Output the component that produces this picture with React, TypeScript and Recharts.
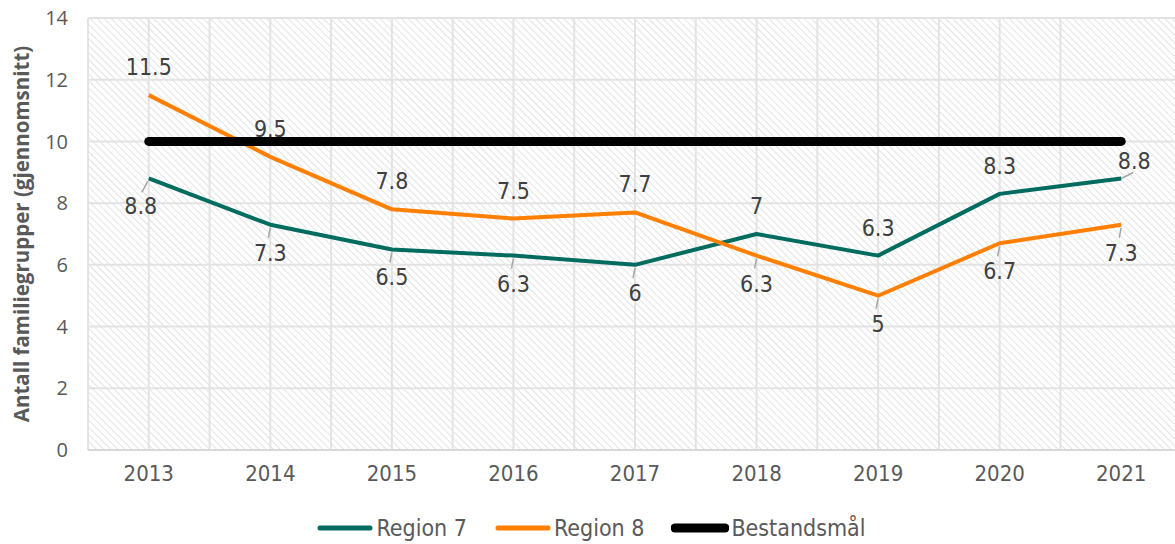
import React from "react";
import {
  CartesianGrid,
  Legend,
  Line,
  LineChart,
  XAxis,
  YAxis,
  Label
} from "recharts";

const years = [2013, 2014, 2015, 2016, 2017, 2018, 2019, 2020, 2021];
const region7 = [8.8, 7.3, 6.5, 6.3, 6, 7, 6.3, 8.3, 8.8];
const region8 = [11.5, 9.5, 7.8, 7.5, 7.7, 6.3, 5, 6.7, 7.3];
const target = [10, 10, 10, 10, 10, 10, 10, 10, 10];
const yTicks = [0, 2, 4, 6, 8, 10, 12, 14];

const data = years.map((year, i) => ({
  year,
  r7: region7[i],
  r8: region8[i],
  goal: target[i]
}));

// gridlines sit on every category centre and every category edge
const gridX = years.flatMap((y) => [y - 0.5, y]).concat(years[years.length - 1] + 0.5);

const FONT = "'DejaVu Sans Condensed', 'DejaVu Sans', sans-serif";
const TEXT = "#595959";
const LABEL = "#404040";

type Side = "above" | "below" | "aboveRight" | "belowLeft";
const r7Sides: Side[] = ["belowLeft", "below", "below", "below", "below", "above", "above", "above", "aboveRight"];
const r8Sides: Side[] = ["above", "above", "above", "above", "above", "below", "below", "below", "below"];

function makeLabel(sides: Side[]) {
  return function PointLabel(props: any) {
    const { x, y, value, index } = props;
    const side = sides[index];
    let dx = 0;
    let dy = -28;
    let lead: [number, number, number, number] | null = null;
    if (side === "below") {
      dy = 28;
      lead = [x, y + 3, x - 2, y + 13];
    } else if (side === "belowLeft") {
      dx = -8;
      dy = 28;
      lead = [x - 1, y + 3, x - 7, y + 14];
    } else if (side === "aboveRight") {
      dx = 13;
      dy = -17;
      lead = [x, y, x + 12, y - 6];
    }
    return (
      <g>
        {lead && (
          <line x1={lead[0]} y1={lead[1]} x2={lead[2]} y2={lead[3]} stroke="#a6a6a6" strokeWidth={1.5} />
        )}
        <text
          x={x + dx}
          y={y + dy}
          textAnchor="middle"
          dominantBaseline="central"
          fontFamily={FONT}
          fontSize={23}
          fill={LABEL}
        >
          {value}
        </text>
      </g>
    );
  };
}

function LegendContent() {
  const items = [
    { name: "Region 7", color: "#006b5f", w: 5 },
    { name: "Region 8", color: "#ff7f00", w: 5 },
    { name: "Bestandsmål", color: "#000000", w: 9 }
  ];
  return (
    <div
      style={{
        display: "flex",
        justifyContent: "center",
        gap: 27,
        paddingTop: 21,
        fontFamily: FONT,
        fontSize: 23,
        lineHeight: "26px",
        color: TEXT
      }}
    >
      {items.map((it) => (
        <div key={it.name} style={{ display: "flex", alignItems: "center" }}>
          <svg width={58} height={12} style={{ marginRight: 2 }}>
            <line x1={4} y1={6} x2={54} y2={6} stroke={it.color} strokeWidth={it.w} strokeLinecap="round" />
          </svg>
          <span>{it.name}</span>
        </div>
      ))}
    </div>
  );
}

export default function App() {
  return (
    <div style={{ position: "absolute", left: 0, top: 0, width: 1175, height: 544, background: "#fff", overflow: "hidden" }}>
      <svg width={0} height={0} style={{ position: "absolute" }}>
        <defs>
          <pattern id="hatch" patternUnits="userSpaceOnUse" width={5} height={5} patternTransform="rotate(-45)">
            <rect width={5} height={5} fill="#ffffff" />
            <line x1={0} y1={0} x2={0} y2={5} stroke="#dcdcdc" strokeWidth={1.6} />
          </pattern>
        </defs>
      </svg>
      <LineChart width={1175} height={544} data={data} margin={{ top: 18, right: -7, bottom: 0, left: 0 }}>
        <CartesianGrid
          fill="url(#hatch)"
          stroke="#e3e3e3"
          strokeWidth={2}
          verticalValues={gridX}
          horizontalValues={yTicks}
        />
        <XAxis
          dataKey="year"
          type="number"
          domain={[2012.5, 2021.5]}
          ticks={years}
          height={44}
          axisLine={{ stroke: "#d9d9d9", strokeWidth: 2 }}
          tickLine={false}
          tickMargin={9}
          tick={{ fontFamily: FONT, fontSize: 22, fill: TEXT }}
        />
        <YAxis
          domain={[0, 14]}
          ticks={yTicks}
          width={88}
          axisLine={false}
          tickLine={false}
          tickMargin={14}
          tick={{ fontFamily: "'Open Sans', sans-serif", fontSize: 20, fill: TEXT }}
        >
          <Label
            value="Antall familiegrupper (gjennomsnitt)"
            angle={-90}
            position="insideLeft"
            offset={22}
            style={{ textAnchor: "middle", fontFamily: "'Open Sans', sans-serif", fontWeight: 700, fontSize: 20.5, fill: TEXT }}
          />
        </YAxis>
        <Legend verticalAlign="bottom" height={50} content={<LegendContent />} />
        <Line
          type="linear"
          dataKey="r7"
          name="Region 7"
          stroke="#006b5f"
          strokeWidth={4}
          strokeLinejoin="round"
          dot={false}
          isAnimationActive={false}
          label={makeLabel(r7Sides)}
        />
        <Line
          type="linear"
          dataKey="r8"
          name="Region 8"
          stroke="#ff7f00"
          strokeWidth={4}
          strokeLinejoin="round"
          dot={false}
          isAnimationActive={false}
          label={makeLabel(r8Sides)}
        />
        <Line
          type="linear"
          dataKey="goal"
          name="Bestandsmål"
          stroke="#000000"
          strokeWidth={9}
          strokeLinecap="round"
          dot={false}
          isAnimationActive={false}
        />
      </LineChart>
    </div>
  );
}
